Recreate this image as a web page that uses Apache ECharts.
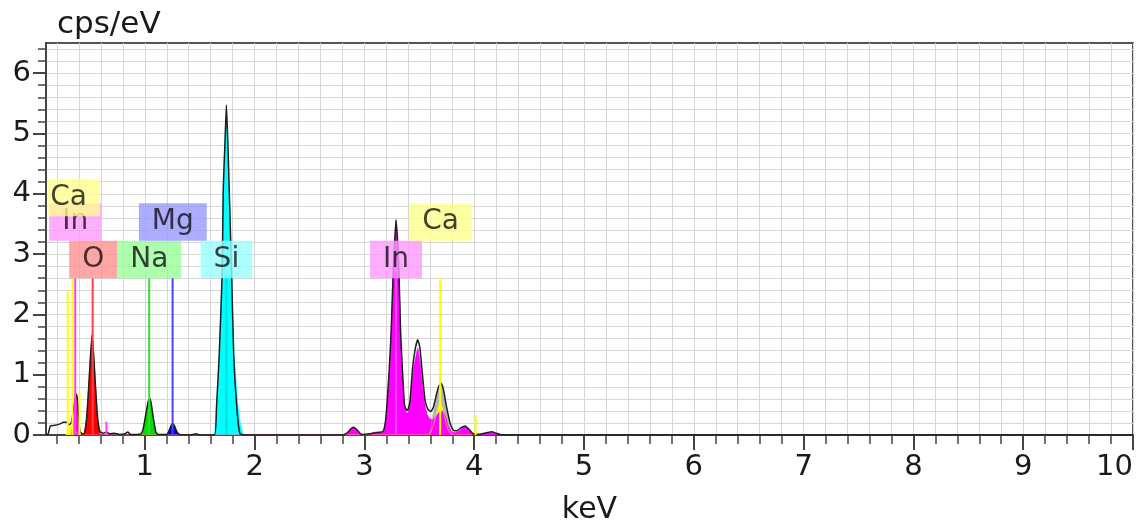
<!DOCTYPE html>
<html>
<head>
<meta charset="utf-8">
<script src="https://cdn.jsdelivr.net/npm/echarts@6/dist/echarts.min.js"></script>
<style>
html, body { margin: 0; padding: 0; background: #fff; }
#chart { width: 1141px; height: 521px; }
</style>
</head>
<body>
<div id="chart"></div>
<script>
const spectrum = [
  [0.1, 0], [0.12, 0.02], [0.14, 0.15], [0.18, 0.16], [0.22, 0.18], [0.26, 0.21], [0.29, 0.21],
  [0.31, 0.17], [0.33, 0.2], [0.35, 0.42], [0.365, 0.6], [0.378, 0.68], [0.39, 0.52], [0.4, 0.22],
  [0.41, 0.06], [0.43, 0.02], [0.45, 0.03], [0.471, 0.3], [0.49, 0.83], [0.505, 1.3], [0.52, 1.66],
  [0.535, 1.3], [0.55, 0.83], [0.569, 0.3], [0.59, 0.06], [0.62, 0.03], [0.65, 0.05], [0.68, 0.02],
  [0.72, 0.03], [0.77, 0.01], [0.82, 0.02], [0.845, 0.05], [0.87, 0.01], [0.93, 0.01], [0.965, 0.02],
  [0.985, 0.1], [1.01, 0.35], [1.03, 0.55], [1.046, 0.61], [1.06, 0.5], [1.08, 0.25], [1.1, 0.05],
  [1.12, 0.01], [1.2, 0.01], [1.22, 0.07], [1.24, 0.16], [1.253, 0.19], [1.27, 0.15], [1.29, 0.06],
  [1.315, 0.01], [1.4, 0], [1.47, 0.02], [1.5, 0], [1.635, 0], [1.653, 0.47], [1.677, 1.3],
  [1.705, 2.7], [1.714, 4.06], [1.731, 4.9], [1.743, 5.47], [1.755, 4.9], [1.769, 4.06], [1.79, 2.7],
  [1.81, 1.3], [1.84, 0.4], [1.866, 0.02], [1.9, 0], [2.8, 0], [2.84, 0.03], [2.875, 0.1], [2.9, 0.13],
  [2.925, 0.1], [2.96, 0.03], [2.98, 0.01], [3.05, 0.02], [3.12, 0.04], [3.17, 0.06], [3.19, 0.2],
  [3.204, 0.47], [3.225, 1.05], [3.243, 1.69], [3.264, 2.79], [3.288, 3.57], [3.313, 2.79], [3.33, 1.69],
  [3.35, 0.95], [3.364, 0.52], [3.378, 0.43], [3.392, 0.41], [3.405, 0.47], [3.416, 0.58], [3.44, 1.13],
  [3.465, 1.45], [3.486, 1.58], [3.505, 1.45], [3.522, 1.13], [3.552, 0.58], [3.58, 0.42], [3.605, 0.39],
  [3.63, 0.47], [3.66, 0.7], [3.68, 0.82], [3.698, 0.86], [3.72, 0.75], [3.75, 0.45], [3.78, 0.2],
  [3.81, 0.08], [3.84, 0.07], [3.88, 0.12], [3.917, 0.15], [3.95, 0.1], [3.99, 0.02], [4.05, 0.01],
  [4.12, 0.04], [4.16, 0.055], [4.2, 0.03], [4.25, 0], [10, 0]
]

// fitted sum around the Ca K / In Lb2 overlap (grey in the picture)
const sumFill = [
  [3.6, 0], [3.62, 0.3], [3.645, 0.5], [3.67, 0.72], [3.698, 0.82], [3.72, 0.7], [3.745, 0.45],
  [3.77, 0.2], [3.8, 0]
]

// fitted element peaks
const caFill = [
  [0.28, 0], [0.3, 0.08], [0.32, 0.12], [0.34, 0.15], [0.36, 0.1], [0.38, 0.04], [0.41, 0],
  [3.58, 0], [3.62, 0.12], [3.65, 0.3], [3.675, 0.48], [3.69, 0.56], [3.705, 0.48], [3.73, 0.3],
  [3.76, 0.1], [3.8, 0], [3.96, 0], [3.99, 0.03], [4.013, 0.05], [4.04, 0.03], [4.07, 0]
]
const inFill = [
  [0.33, 0], [0.35, 0.25], [0.365, 0.55], [0.377, 0.65], [0.39, 0.45], [0.4, 0.15], [0.415, 0],
  [0.63, 0], [0.65, 0.03], [0.67, 0], [2.82, 0], [2.85, 0.04], [2.875, 0.1], [2.9, 0.13], [2.925, 0.1],
  [2.95, 0.04], [2.98, 0], [3.05, 0], [3.07, 0.04], [3.12, 0.05], [3.17, 0.05], [3.19, 0.2],
  [3.204, 0.45], [3.225, 1.0], [3.243, 1.65], [3.264, 2.75], [3.288, 3.55], [3.313, 2.75], [3.33, 1.65],
  [3.35, 0.9], [3.364, 0.5], [3.38, 0.38], [3.395, 0.36], [3.41, 0.48], [3.43, 0.85], [3.455, 1.18],
  [3.486, 1.44], [3.515, 1.1], [3.54, 0.65], [3.565, 0.38], [3.59, 0.28], [3.62, 0.25], [3.65, 0.3],
  [3.68, 0.38], [3.71, 0.4], [3.74, 0.3], [3.77, 0.12], [3.8, 0.05], [3.83, 0.04], [3.87, 0.08],
  [3.9, 0.13], [3.92, 0.14], [3.95, 0.1], [3.98, 0.03], [4.02, 0.01], [4.1, 0.03], [4.16, 0.04],
  [4.21, 0.01], [4.24, 0]
]
const oFill = [[0.45, 0], [0.471, 0.3], [0.49, 0.83], [0.505, 1.3], [0.52, 1.66], [0.535, 1.3], [0.55, 0.83], [0.569, 0.3], [0.595, 0]]
const naFill = [[0.975, 0], [0.99, 0.12], [1.01, 0.35], [1.03, 0.55], [1.046, 0.61], [1.06, 0.5], [1.08, 0.25], [1.1, 0.05], [1.11, 0]]
const mgFill = [[1.2, 0], [1.22, 0.07], [1.24, 0.16], [1.253, 0.19], [1.27, 0.15], [1.29, 0.06], [1.315, 0]]
const siFill = [
  [1.635, 0], [1.653, 0.47], [1.677, 1.3], [1.705, 2.7], [1.714, 4.06], [1.731, 4.9], [1.743, 5.45],
  [1.755, 4.9], [1.769, 4.06], [1.79, 2.7], [1.814, 1.3], [1.85, 0.47], [1.875, 0.15], [1.9, 0]
]

// element line markers: [keV, height]
const caLines = [[0.298, 2.38], [0.341, 2.6], [0.405, 0.7], [3.69, 2.6], [4.013, 0.33]]
const inLines = [[0.366, 2.6], [0.65, 0.22], [3.288, 2.6]]
const oLines = [[0.525, 2.6]]
const naLines = [[1.04, 2.6]]
const mgLines = [[1.253, 2.6]]
const siLines = [[1.743, 2.6]]

// element tags: [element, keV, cps/eV]
const tags = [
  ['In', 0.366, 3.53], ['Ca', 0.355, 3.94], ['O', 0.53, 2.91], ['Na', 1.041, 2.91],
  ['Mg', 1.255, 3.53], ['Si', 1.743, 2.91], ['In', 3.288, 2.91], ['Ca', 3.694, 3.53]
]

const xMajor = [1, 2, 3, 4, 5, 6, 7, 8, 9, 10]
const yMajor = [0, 1, 2, 3, 4, 5, 6]

const colors = {
  Ca: { fill: '#ffff00', line: '#ffff00', tag: '#ffff8c' },
  In: { fill: '#ff00ff', line: '#ff40ff', tag: '#ff99ff' },
  O: { fill: '#ff0000', line: '#ff4040', tag: '#ff9090' },
  Na: { fill: '#00dd00', line: '#30e030', tag: '#99ff99' },
  Mg: { fill: '#0000dd', line: '#4444ff', tag: '#9999ff' },
  Si: { fill: '#00ffff', line: '#00e0e0', tag: '#99ffff' }
}

const font = 'DejaVu Sans'
const axisColor = '#444'
const textColor = '#1a1a1a'

// minor grid every 0.2
let xMinor = []
for (let i = 1; i <= 50; i++) xMinor.push(+(i * 0.2).toFixed(1))
let yMinor = []
for (let i = 0; i <= 32; i++) yMinor.push(+(i * 0.2).toFixed(1))

function fill(data, color) {
  return {
    type: 'line', data: data, smooth: 0.15, symbol: 'none', silent: true, z: 2,
    lineStyle: { width: 0.6, color: color },
    areaStyle: { color: color, opacity: 1 }
  }
}

let series = [
  fill(sumFill, '#b4b4b4'),
  fill(caFill, colors.Ca.fill),
  fill(inFill, colors.In.fill),
  fill(oFill, colors.O.fill),
  fill(naFill, colors.Na.fill),
  fill(mgFill, colors.Mg.fill),
  fill(siFill, colors.Si.fill),
  {
    type: 'line', data: spectrum, smooth: 0.15, symbol: 'none', silent: true, z: 3,
    lineStyle: { width: 1.5, color: '#1e1e1e' }
  }
]

const markers = { Ca: caLines, In: inLines, O: oLines, Na: naLines, Mg: mgLines, Si: siLines }
Object.keys(markers).forEach(function(el) {
  markers[el].forEach(function(m) {
    series.push({
      type: 'line', data: [[m[0], 0], [m[0], m[1]]], symbol: 'none', silent: true, z: 4,
      lineStyle: { width: 2, color: colors[el].line }
    })
  })
})

tags.forEach(function(t, i) {
  // the first Ca tag is squeezed against the left frame
  let pad = i === 1 ? [4, 13, 4, 2] : [4, 13, 4, 13]
  series.push({
    type: 'scatter', data: [[t[1], t[2]]], symbolSize: 0, silent: true, z: 5,
    label: {
      show: true, position: 'inside', formatter: t[0],
      backgroundColor: colors[t[0]].tag, padding: pad,
      fontFamily: font, fontSize: 28, lineHeight: 29.5, color: '#111'
    }
  })
})

let chart = echarts.init(document.getElementById('chart'), null, { renderer: 'canvas' })
let option = {
  animation: false,
  grid: {
    left: 46, right: 8, top: 43, bottom: 86,
    show: true, borderColor: '#555', borderWidth: 2,
    outerBoundsMode: 'none'
  },
  xAxis: [
    {
      type: 'value', min: 0.1, max: 10, position: 'bottom',
      axisLine: { show: true, onZero: false, lineStyle: { color: axisColor, width: 2 } },
      axisTick: { show: true, customValues: xMajor, length: 15, lineStyle: { color: axisColor, width: 2 } },
      axisLabel: {
        customValues: xMajor, fontFamily: font, fontSize: 29, color: textColor, margin: 18,
        alignMaxLabel: 'right'
      },
      splitLine: { show: false },
      name: 'keV', nameLocation: 'middle', nameGap: 60,
      nameTextStyle: { fontFamily: font, fontSize: 30, color: textColor }
    },
    {
      type: 'value', min: 0.1, max: 10, position: 'bottom',
      axisLine: { show: false },
      axisTick: { show: true, customValues: xMinor, length: 9, lineStyle: { color: axisColor, width: 1.5 } },
      axisLabel: { show: false },
      splitLine: { show: true, lineStyle: { color: '#d6d6d6', width: 1 } }
    }
  ],
  yAxis: [
    {
      type: 'value', min: 0, max: 6.5, position: 'left',
      axisLine: { show: true, lineStyle: { color: axisColor, width: 2 } },
      axisTick: { show: true, customValues: yMajor, length: 13, lineStyle: { color: axisColor, width: 2 } },
      axisLabel: { customValues: yMajor, fontFamily: font, fontSize: 29, color: textColor, margin: 15 },
      splitLine: { show: false },
      name: 'cps/eV', nameLocation: 'end', nameGap: 3,
      nameTextStyle: { fontFamily: font, fontSize: 31, color: textColor, align: 'left', padding: [0, 0, 0, 11] }
    },
    {
      type: 'value', min: 0, max: 6.5, position: 'left',
      axisLine: { show: false },
      axisTick: { show: true, customValues: yMinor, length: 8, lineStyle: { color: axisColor, width: 1.5 } },
      axisLabel: { show: false },
      splitLine: { show: true, lineStyle: { color: '#d6d6d6', width: 1 } }
    }
  ],
  series: series
}

option && chart.setOption(option)
</script>
</body>
</html>
